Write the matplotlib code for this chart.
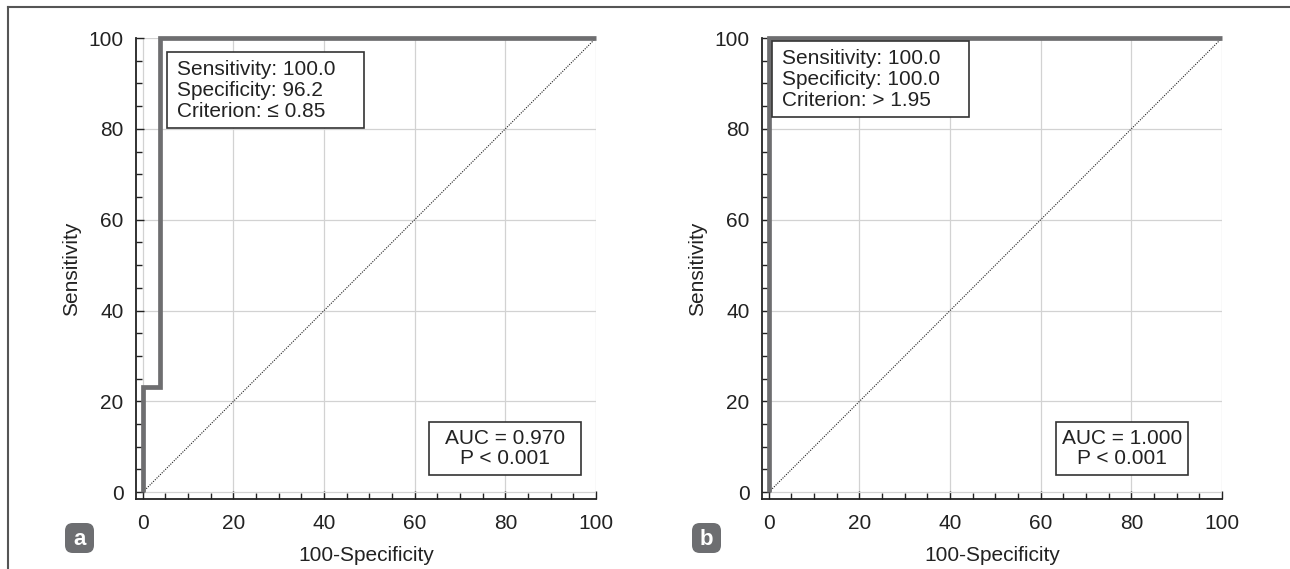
import matplotlib
matplotlib.use("Agg")
import matplotlib.pyplot as plt
from matplotlib.patches import Rectangle, FancyBboxPatch
from matplotlib.lines import Line2D
from matplotlib.ticker import MultipleLocator

plt.rcParams['font.family'] = ['Liberation Sans', 'DejaVu Sans']

# ROC curve coordinates (100-Specificity, Sensitivity)
roc_a_x = [0, 0, 3.8, 3.8, 100]
roc_a_y = [0, 23.1, 23.1, 100, 100]
roc_b_x = [0, 0, 100]
roc_b_y = [0, 100, 100]

# Optimal cut-off summaries
summary_a = ["Sensitivity: 100.0", "Specificity: 96.2", "Criterion: \u2264 0.85"]
summary_b = ["Sensitivity: 100.0", "Specificity: 100.0", "Criterion: > 1.95"]
auc_a = ["AUC = 0.970", "P < 0.001"]
auc_b = ["AUC = 1.000", "P < 0.001"]
panel_letters = ["a", "b"]

W, H = 1290, 569
fig = plt.figure(figsize=(W / 100, H / 100), dpi=100)

CURVE = '#6e6e70'
FS = 15


def px_box(x0, y0, x1, y1):
    """Convert a pixel rectangle (top-left origin) to figure fraction."""
    return [x0 / W, 1 - y1 / H, (x1 - x0) / W, (y1 - y0) / H]


def roc_panel(rect, xs, ys, summary, summary_box, auc, auc_box):
    ax = fig.add_axes(rect)
    ax.set_xlim(-1.5, 100)
    ax.set_ylim(-1.5, 100)
    for s in ('top', 'right'):
        ax.spines[s].set_visible(False)
    for s in ('left', 'bottom'):
        ax.spines[s].set_linewidth(1.3)
        ax.spines[s].set_color('#222222')
    ax.xaxis.set_major_locator(MultipleLocator(20))
    ax.yaxis.set_major_locator(MultipleLocator(20))
    ax.xaxis.set_minor_locator(MultipleLocator(5))
    ax.yaxis.set_minor_locator(MultipleLocator(5))
    ax.tick_params(which='both', direction='in', width=1.0, color='#222222',
                   labelsize=FS, labelcolor='#222222')
    ax.tick_params(which='major', length=6)
    ax.tick_params(axis='x', which='major', pad=11)
    ax.tick_params(axis='y', which='major', pad=9)
    ax.tick_params(which='minor', length=4)
    ax.grid(True, which='major', color='#d2d2d2', lw=0.9)
    ax.set_axisbelow(True)
    ax.set_xlabel("100-Specificity", fontsize=FS, color='#222222', labelpad=9)
    ax.set_ylabel("Sensitivity", fontsize=FS, color='#222222', labelpad=5)

    # reference diagonal
    ax.plot([0, 100], [0, 100], ls=(0, (1, 1.2)), lw=0.8, color='#222222', zorder=2)
    # ROC step curve
    ax.plot(xs, ys, color=CURVE, lw=3.4, solid_joinstyle='miter',
            solid_capstyle='butt', clip_on=False, zorder=4)

    # cut-off summary box
    x0, y0, x1, y1 = summary_box
    ax.add_patch(Rectangle((x0, y0), x1 - x0, y1 - y0, fc='white', ec='#333333',
                           lw=1.2, zorder=5))
    ax.text(x0 + 2.2, y1 - 1.8, "\n".join(summary), fontsize=FS, color='#222222',
            ha='left', va='top', linespacing=1.12, zorder=6)

    # AUC box
    x0, y0, x1, y1 = auc_box
    ax.add_patch(Rectangle((x0, y0), x1 - x0, y1 - y0, fc='white', ec='#333333',
                           lw=1.2, zorder=5))
    ax.text((x0 + x1) / 2, (y0 + y1) / 2, "\n".join(auc), fontsize=FS,
            color='#222222', ha='center', va='center', linespacing=1.08, zorder=6)
    return ax


roc_panel(px_box(136, 38, 596, 499), roc_a_x, roc_a_y, summary_a,
          (5.3, 80.1, 48.8, 96.9), auc_a, (63.1, 3.8, 96.7, 15.4))
roc_panel(px_box(762, 38, 1222, 499), roc_b_x, roc_b_y, summary_b,
          (0.7, 82.6, 44.1, 99.3), auc_b, (63.4, 3.8, 92.5, 15.4))

# panel letters in rounded badges
for letter, px in zip(panel_letters, (65, 692)):
    bx, by, bw, bh = px_box(px, 523, px + 29, 553)
    fig.patches.append(FancyBboxPatch((bx, by), bw, bh,
                                      boxstyle="round,pad=0,rounding_size=0.006",
                                      transform=fig.transFigure,
                                      fc='#6d6e71', ec='none', mutation_aspect=W / H))
    fig.text(bx + bw / 2, by + bh / 2 - 0.002, letter, color='white', fontsize=16,
             fontweight='bold', ha='center', va='center')

# outer frame (top and left edges)
fig.add_artist(Line2D([8 / W, 1], [1 - 7 / H, 1 - 7 / H], transform=fig.transFigure,
                      color='#555555', lw=1.5))
fig.add_artist(Line2D([8 / W, 8 / W], [0, 1 - 7 / H], transform=fig.transFigure,
                      color='#555555', lw=1.5))

fig.savefig("out.png", dpi=100, facecolor='white')
